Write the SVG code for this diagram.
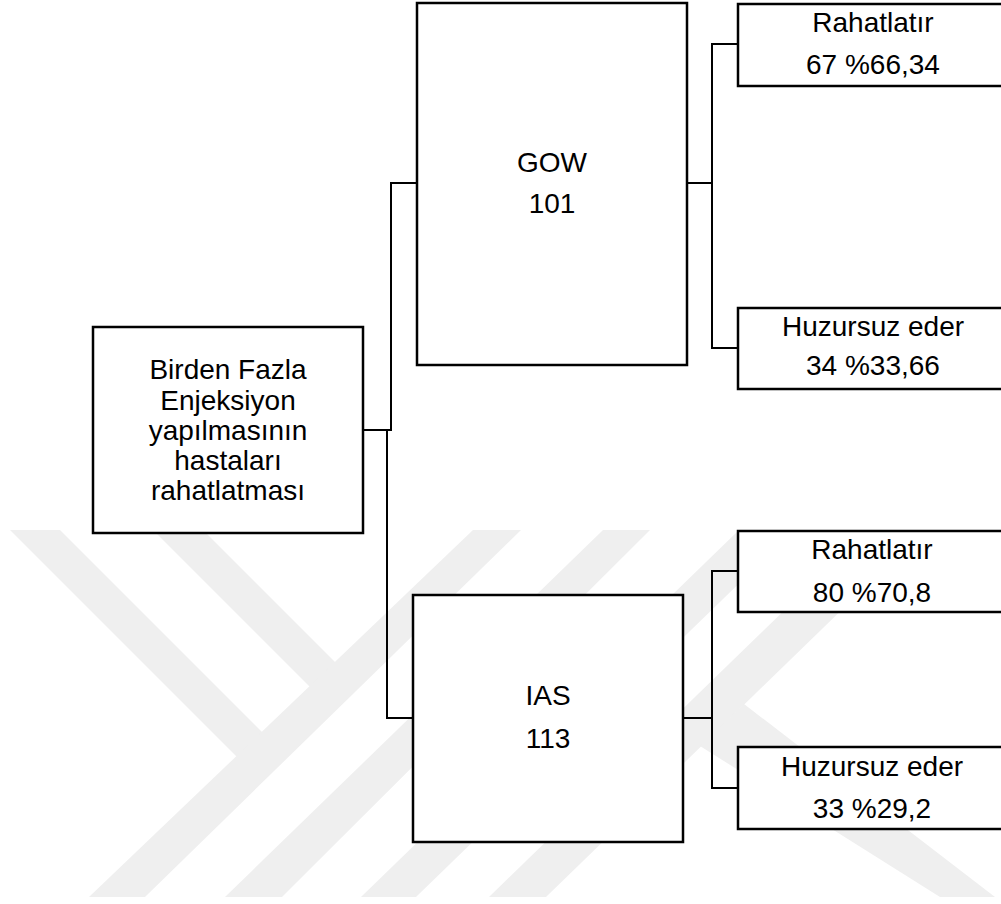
<svg xmlns="http://www.w3.org/2000/svg" width="1001" height="904" viewBox="0 0 1001 904">
<style>
.wm{fill:#efefef;stroke:none}
.box{fill:#ffffff;stroke:#000000;stroke-width:2.5}
.con{fill:none;stroke:#000000;stroke-width:2}
.t{font-family:"Liberation Sans",Arial,sans-serif;font-size:28px;fill:#000000;text-anchor:middle}
</style>
<rect x="0" y="0" width="1001" height="904" fill="#ffffff"/>
<g id="watermark">
<polygon class="wm" points="10,530 60,530 266,736 241,761"/>
<polygon class="wm" points="153,530 203,530 338,665 313,690"/>
<polygon class="wm" points="473,530 521,530 145,897 89,897"/>
<polygon class="wm" points="603,530 650,530 282,897 225,897"/>
<polygon class="wm" points="739,530 794,530 416,897 361,897"/>
<polygon class="wm" points="867,530 924,530 546,897 489,897"/>
<polygon class="wm" points="700,746 744,704 995,897 940,897"/>
</g>
<g id="connectors">
<path class="con" d="M363,430 H391 V183 H417"/>
<path class="con" d="M363,430 H387 V718 H413"/>
<path class="con" d="M687,183 H712 V44 H738"/>
<path class="con" d="M712,183 V348 H738"/>
<path class="con" d="M683,718 H712 V571 H738"/>
<path class="con" d="M712,718 V788 H738"/>
</g>
<g id="root">
<rect class="box" x="93" y="327" width="270" height="206"/>
<text class="t" x="228" y="379">Birden Fazla</text>
<text class="t" x="228" y="410">Enjeksiyon</text>
<text class="t" x="228" y="440">yapılmasının</text>
<text class="t" x="228" y="470">hastaları</text>
<text class="t" x="228" y="500">rahatlatması</text>
</g>
<g id="gow">
<rect class="box" x="417" y="3" width="270" height="362"/>
<text class="t" x="552" y="172">GOW</text>
<text class="t" x="552" y="213">101</text>
</g>
<g id="ias">
<rect class="box" x="413" y="595" width="270" height="247"/>
<text class="t" x="548" y="705">IAS</text>
<text class="t" x="548" y="748">113</text>
</g>
<g id="gow-rahatlatir">
<rect class="box" x="738" y="4" width="272" height="82"/>
<text class="t" x="873" y="32">Rahatlatır</text>
<text class="t" x="873" y="74">67 %66,34</text>
</g>
<g id="gow-huzursuz">
<rect class="box" x="738" y="308" width="272" height="81"/>
<text class="t" x="873" y="336">Huzursuz eder</text>
<text class="t" x="873" y="375">34 %33,66</text>
</g>
<g id="ias-rahatlatir">
<rect class="box" x="738" y="531" width="272" height="81"/>
<text class="t" x="872" y="559">Rahatlatır</text>
<text class="t" x="872" y="602">80 %70,8</text>
</g>
<g id="ias-huzursuz">
<rect class="box" x="738" y="747" width="272" height="82"/>
<text class="t" x="872" y="776">Huzursuz eder</text>
<text class="t" x="872" y="818">33 %29,2</text>
</g>
</svg>
